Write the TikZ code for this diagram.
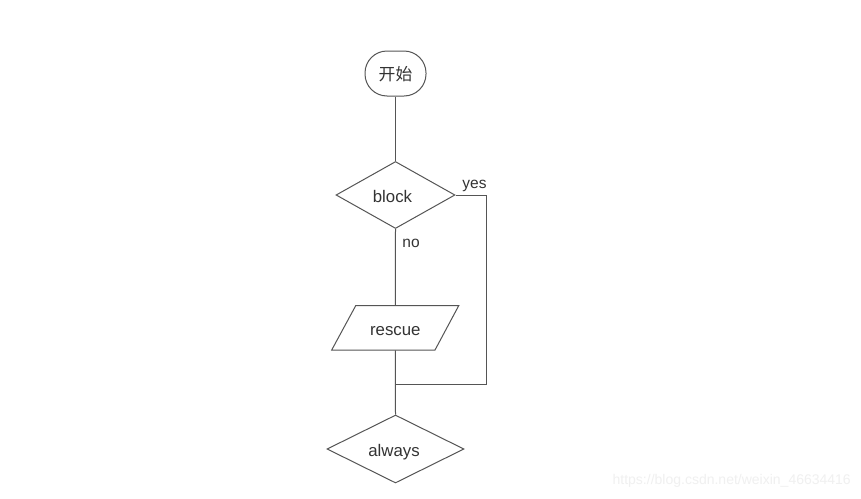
\documentclass[tikz,border=0pt]{standalone}
\usepackage{fontspec}
\setmainfont{Liberation Sans}
\newfontfamily\cjk{Noto Sans CJK SC}
\usetikzlibrary{shapes.geometric}
\definecolor{ln}{HTML}{555555}
\definecolor{tx}{HTML}{333333}
\begin{document}
\begin{tikzpicture}[x=1pt,y=-1pt,
  every node/.style={text=tx,font=\fontsize{16.8}{19}\selectfont},
  conn/.style={draw=ln,line width=1pt},
  txt/.style={text height=14pt,text depth=0pt},
  startbox/.style={draw=ln,line width=1pt,rectangle,rounded corners=22pt,minimum width=61pt,minimum height=45pt,inner sep=0pt,txt},
  decide/.style={draw=ln,line width=1pt,diamond,inner sep=0pt,txt},
  lbl/.style={font=\fontsize{15.5}{18}\selectfont,inner sep=0pt}]
\useasboundingbox (0,0) rectangle (861,498);
\fill[white] (0,0) rectangle (861,498);
\node[startbox] (start) at (395.5,73.5) {\cjk 开始};
\node[decide,minimum width=119pt,minimum height=67pt] (block) at (395.5,195) {\hspace*{-6pt}block};
\node[minimum width=103pt,minimum height=44.3pt,inner sep=0pt,txt] (rescue) at (395.3,328) {rescue};
\draw[conn] (355.7,305.7) -- (458.7,305.7) -- (435,350) -- (331.7,350) -- cycle;
\node[decide,minimum width=137pt,minimum height=68pt] (always) at (395.5,449) {\hspace*{-3pt}always};
\coordinate (merge) at (395.5,384);
\coordinate (ya) at (486,195);
\coordinate (yb) at (486,384);
\draw[conn] (start.south) -- (block.north);
\draw[conn] (block.south) -- (rescue.north);
\draw[conn] (rescue.south) -- (always.north);
\draw[conn] (block.east) -- (ya) -- (yb) -- (merge);
\node[lbl] (yes) at (474.5,186) {yes};
\node[lbl] (no) at (411,243) {no};
\node[anchor=east,inner sep=0pt,text=black!6,font=\fontsize{14}{16}\selectfont] (wm) at (851,481) {https://blog.csdn.net/weixin\_46634416};
\end{tikzpicture}
\end{document}
